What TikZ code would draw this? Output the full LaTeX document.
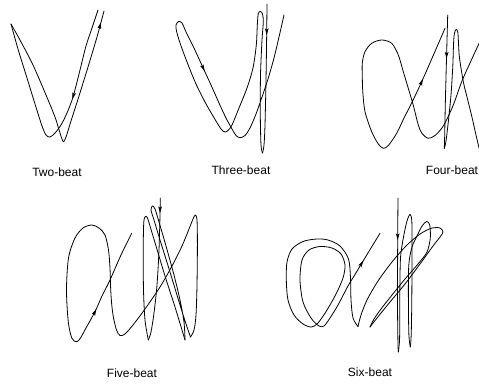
\documentclass[tikz,border=0pt]{standalone}
\usepackage{fontspec}
\setmainfont{Liberation Sans}
\usepackage{tikz}
\usetikzlibrary{arrows.meta}
\tikzset{
  bline/.style={line width=0.8pt, line join=round, line cap=round},
  barr/.style={-{Stealth[length=6.5pt,width=3.6pt,inset=1.2pt]}, line width=0.8pt},
  blabel/.style={font=\fontsize{12}{14}\selectfont, inner sep=0pt},
}
\begin{document}
\begin{tikzpicture}[x=1pt, y=-1pt]
    \useasboundingbox (0,0) rectangle (479,383);
    \clip (0,0) rectangle (479,383);

    % two-beat
    \draw[bline] plot[smooth] coordinates {(98,10) (92,28) (86,46) (79.5,72) (73,97) (67,113) (61,125) (55,133) (50,137) (46,135) (42,126) (35,104) (27,78) (18,49) (11,24)};
    \draw[bline] plot[smooth] coordinates {(11,24) (20,40) (33,65) (46,95) (55,117) (60,133) (63.3,141.7) (66,137) (71,121) (79,96) (88,67) (97,37) (104,11)};
    \draw[barr] (73.3,96) -- (72.4,99);
    \draw[barr] (100.2,25) -- (100.9,22.3);
    \node[blabel] (twolbl) at (57,172) {Two-beat};

    % three-beat
    \draw[bline] plot[smooth] coordinates {(267,4) (266.7,33) (266,80) (265,125) (264,145) (262.5,153)};
    \draw[bline] plot[smooth] coordinates {(262.5,153) (261,145) (260.3,115) (260.5,75) (262,40) (263.3,22) (262.5,14) (260.5,11.5) (258.3,13.5) (257.3,25) (256.3,45) (253,68) (247,88) (239,108) (232,125) (228,130.5) (225,132) (221,129) (213,116) (205,102) (196,84) (187,62) (180,43) (176.5,31) (176,25) (178.5,21.5) (182,23) (186.5,33) (193.5,47) (203.3,68.3) (211,85) (219,103) (226,118) (232,129) (236,135.5) (240,137.7) (245,135.5) (250,128) (256,114) (262,97) (268,79) (274,58) (279,37) (284,15)};
    \draw[barr] (266.75,31) -- (266.7,35);
    \draw[barr] (203.3,68.3) -- (204.6,71);
    \node[blabel] (threelbl) at (241,170) {Three-beat};

    % four-beat
    \draw[bline] plot[smooth] coordinates {(447.7,15) (446.6,55) (445.4,100) (444.7,135) (444.3,148.5)};
    \draw[bline] plot[smooth] coordinates {(444.3,148.5) (446,141) (448.3,121.7) (451,95) (452.8,66) (453.5,45) (454.3,34) (456,29.5) (457.8,32) (458.6,45) (459.5,58) (463.3,81.7) (467.5,99) (471.7,116) (476,135) (480,152) (484,168)};
    \draw[bline] plot[smooth] coordinates {(490,20) (478.3,45) (470,63) (461.7,81.7) (453.3,105) (446,121) (441.7,128.3) (435,135.5) (428.3,138.3) (422,133.5) (418.3,125) (414.5,110) (412.3,101.7) (408.3,88.3) (403.3,71.7) (398.3,55) (391.7,43.3) (381.7,40) (371.7,43.3) (365,51.7) (362.3,63) (362.3,77) (362.8,92) (365,111.7) (371.7,131.7) (378.3,144) (383.3,148.3) (388.3,145.5) (396.7,133.3) (404,118) (412.3,101.7) (421.7,81.7) (433,56) (445,28.3)};
    \draw[barr] (446.6,55) -- (446.5,58.5);
    \draw[barr] (421.7,81.7) -- (422.9,79);
    \node[blabel] (fourlbl) at (452,170) {Four-beat};

    % five-beat
    \draw[bline] plot[smooth] coordinates {(131.7,233.3) (121,255) (110,280) (102,296) (95,311.7) (86,328) (80.5,338) (76.7,341.7) (72,338.5) (68.3,322) (66.5,290) (68.5,258) (75,238) (83,228) (91.7,225) (99,228) (105,235) (108.5,250) (110,268) (110.5,285) (111.5,302) (113.3,316.7) (116.5,330) (120,335.5) (125,334) (133,325) (145,309) (160,287) (172,266) (182,246) (189,229) (193,219) (195.3,215) (197,220) (197.4,245) (197,285) (196,315) (194,330) (190.5,337)};
    \draw[bline] plot[smooth] coordinates {(190.5,337) (187,327) (180,305) (170,272) (160,240) (154,220) (151,210) (152.5,206) (155,209) (159,222) (166,246) (174,275) (180,300) (184,322) (185,340)};
    \draw[bline] plot[smooth] coordinates {(185,340) (182,330) (175,307) (165,276) (156,246) (150,226) (147.5,218) (145.5,216.5) (143.8,222) (143.2,250) (143.5,290) (145,320) (148.3,340)};
    \draw[bline] plot[smooth] coordinates {(148.3,340) (151,332) (154,313) (157,285) (159,250) (160,215) (160.3,198)};
    \draw[barr] (160.05,209) -- (160,213);
    \draw[barr] (95,311.7) -- (96.3,309.1);
    \node[blabel] (fivelbl) at (132,373) {Five-beat};

    % six-beat
    \draw[bline] plot[smooth] coordinates {(398,198) (397.7,237) (397.5,300) (397.9,340) (398.3,352)};
    \draw[bline] plot[smooth] coordinates {(398.3,352) (399.6,338) (399.8,295) (400.5,258) (403.5,237) (407,221) (410,214.5) (411.8,221) (412,250) (411.8,300) (411.2,335) (410.3,347)};
    \draw[bline] plot[smooth] coordinates {(410.3,347) (408.9,335) (408.4,300) (408.8,265) (412,247) (417,236) (422,226) (426.7,221.5) (429.7,225) (430.3,238) (427,252) (418,264) (405,279) (392,295) (381,309) (374,319) (370,327)};
    \draw[bline] plot[smooth] coordinates {(370,327) (377,318) (390,302) (405,284) (420,264) (433,246) (440,237) (443,232) (440,228) (432,228) (420,234) (406,246) (392,262) (378,281) (367,300) (361,315) (358,326.5)};
    \draw[bline] plot[smooth] coordinates {(358,326.5) (353,318) (351,300) (350.5,278) (348.5,259) (340,246) (328,240) (316.7,239) (303,241.5) (292,249) (287,262) (286.3,280) (288,300) (294,315) (303,324) (311.5,327) (318,323) (327,310) (336,294) (343,278) (345,265) (341,254) (332,248) (320,246.5) (309,250) (302,260) (300,280) (303,302) (311,318) (319,326) (324,326) (330,318) (338,305) (348,286) (355,274.5) (361.7,263.3) (371,248) (380,233.3)};
    \draw[barr] (397.7,236) -- (397.65,240);
    \draw[barr] (361.7,263.3) -- (363.3,260.7);
    \node[blabel] (sixlbl) at (370,372) {Six-beat};
\end{tikzpicture}
\end{document}
